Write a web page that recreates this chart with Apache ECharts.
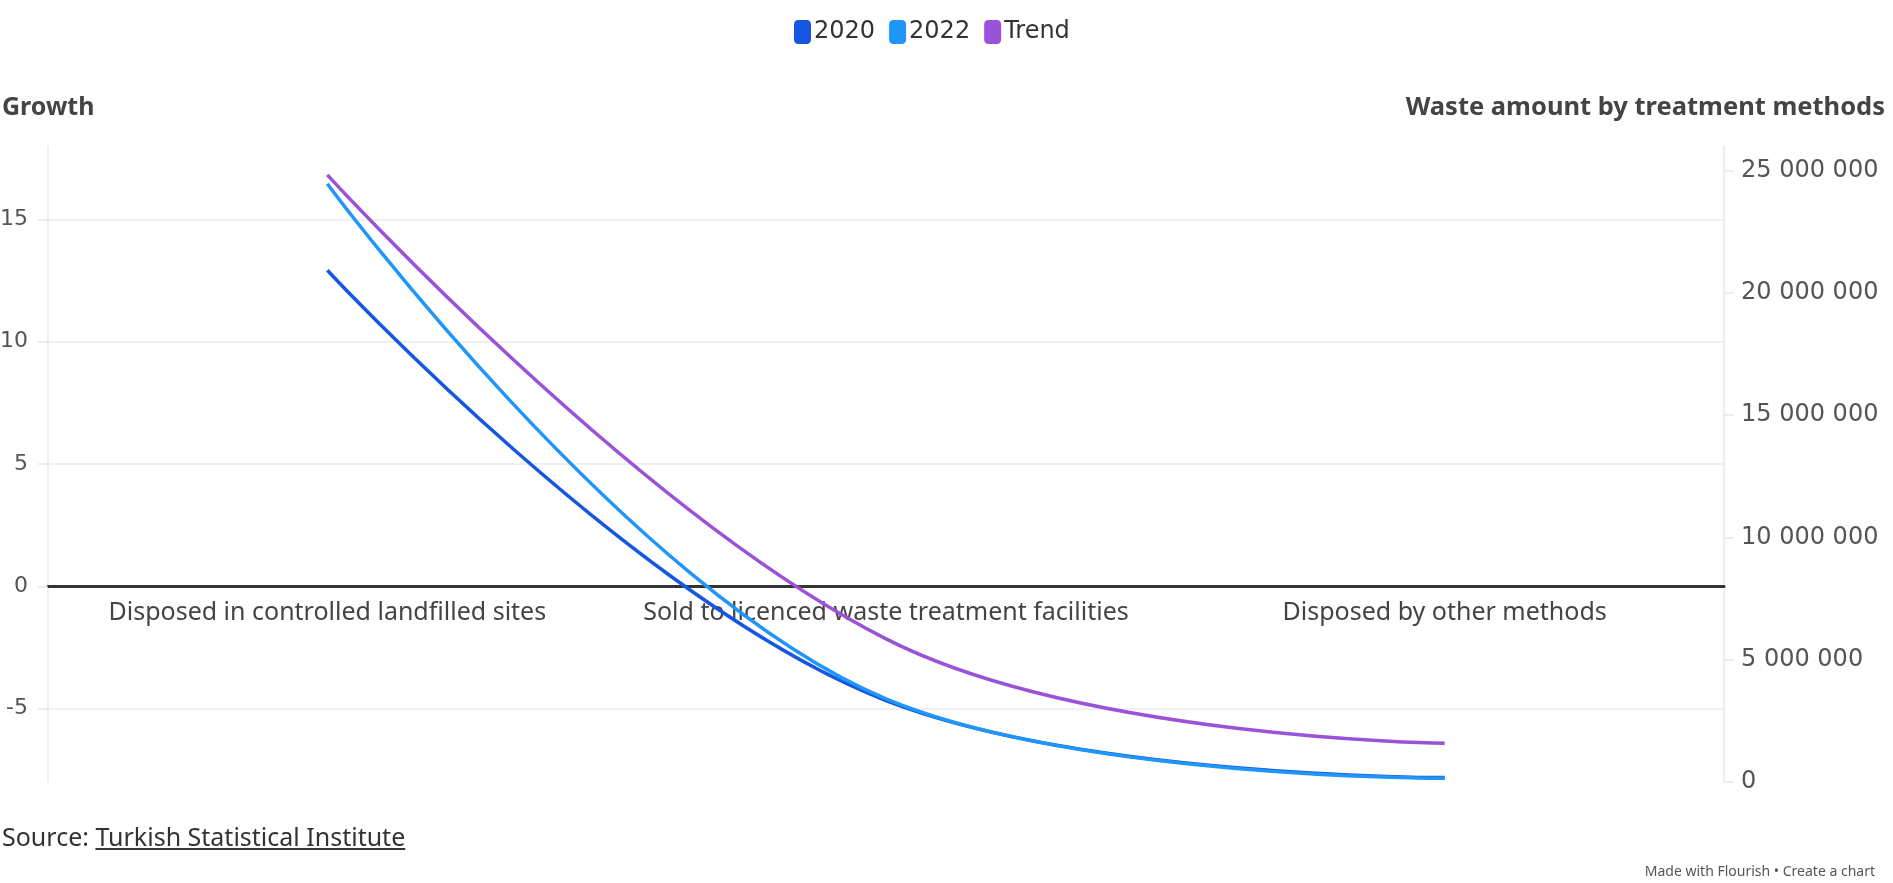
<!DOCTYPE html>
<html>
<head>
<meta charset="utf-8">
<title>Waste amount by treatment methods</title>
<script src="https://cdn.jsdelivr.net/npm/echarts@6/dist/echarts.min.js"></script>
<style>
  html, body { margin: 0; padding: 0; background: #fff; }
  #chart { width: 1893px; height: 883px; }
  .source {
    position: absolute; left: 2px; top: 819px;
    font: 25px "Noto Sans", sans-serif; color: #333;
  }
  .source span { text-decoration: underline; }
  .credit {
    position: absolute; right: 18px; top: 861px;
    font: 14px "Noto Sans", sans-serif; color: #555;
  }
</style>
</head>
<body>
<div id="chart"></div>
<div class="source">Source: <span>Turkish Statistical Institute</span></div>
<div class="credit">Made with Flourish • Create a chart</div>
<script>
// categories (x axis)
const categories = [
  'Disposed in controlled landfilled sites',
  'Sold to licenced waste treatment facilities',
  'Disposed by other methods'
];

// waste amounts
const data2020 = [20920000, 3330000, 180000];
const data2022 = [24460000, 3400000, 150000];
const trend = [24820000, 5850000, 1580000];

// tick values
const growthTicks = [-5, 0, 5, 10, 15];
const amountTicks = [0, 5000000, 10000000, 15000000, 20000000, 25000000];

const colors = ['#1557e0', '#2196f9', '#9a52d9'];

// 25000000 -> "25 000 000"
function spaced(v) {
  return String(v).replace(/\B(?=(\d{3})+(?!\d))/g, ' ');
}

const chart = echarts.init(document.getElementById('chart'));

const numFont = 'DejaVu Sans';
const textFont = 'Noto Sans';

// grid + left axis range, the category axis sits on the growth zero line
const gridTop = 146, gridBottom = 101;
const growthMin = -8, growthMax = 18;
const plotH = 883 - gridTop - gridBottom;
const zeroOffset = -plotH * (0 - growthMin) / (growthMax - growthMin);

chart.setOption({
  animation: false,
  color: colors,
  title: [
    {
      text: 'Growth',
      left: 2, top: 95, padding: 0,
      textStyle: { fontFamily: textFont, fontSize: 25, fontWeight: 'bold', color: '#444' }
    },
    {
      text: 'Waste amount by treatment methods',
      right: 8, top: 95, padding: 0,
      textStyle: { fontFamily: textFont, fontSize: 25.5, fontWeight: 'bold', color: '#444' }
    }
  ],
  legend: {
    top: 15,
    left: 789,
    icon: 'roundRect',
    itemWidth: 17,
    itemHeight: 24,
    itemGap: 14,
    textStyle: { fontFamily: numFont, fontSize: 24, color: '#333', padding: [0, 0, 0, -2] },
    data: ['2020', '2022', 'Trend']
  },
  grid: { left: 48, right: 169, top: gridTop, bottom: gridBottom, outerBoundsMode: 'none' },
  xAxis: {
    type: 'category',
    data: categories,
    boundaryGap: true,
    offset: zeroOffset,
    axisLine: { onZero: false, lineStyle: { color: '#333', width: 3 } },
    axisTick: { alignWithLabel: true, length: 8, lineStyle: { color: '#e6e6e6', width: 1.5 } },
    axisLabel: { interval: 0, hideOverlap: false, fontFamily: textFont, fontSize: 25, color: '#444', margin: 14 }
  },
  yAxis: [
    {
      type: 'value',
      position: 'left',
      min: growthMin,
      max: growthMax,
      axisLine: { show: true, lineStyle: { color: '#e8e8e8', width: 1.5 } },
      axisTick: { show: true, length: 10, customValues: growthTicks, lineStyle: { color: '#e8e8e8', width: 1.5 } },
      axisLabel: { customValues: growthTicks, fontFamily: numFont, fontSize: 22, color: '#555', margin: 20 },
      splitLine: { show: true, lineStyle: { color: '#ebebeb', width: 1.5 } }
    },
    {
      type: 'value',
      position: 'right',
      min: 0,
      max: 26000000,
      axisLine: { show: true, lineStyle: { color: '#e8e8e8', width: 1.5 } },
      axisTick: { show: true, length: 10, customValues: amountTicks, lineStyle: { color: '#e8e8e8', width: 1.5 } },
      axisLabel: { customValues: amountTicks, fontFamily: numFont, fontSize: 24, color: '#555', margin: 17, formatter: spaced },
      splitLine: { show: false }
    }
  ],
  series: [
    { name: '2020', type: 'line', yAxisIndex: 1, data: data2020, smooth: 0.4, symbol: 'none', lineStyle: { width: 3.5 } },
    { name: '2022', type: 'line', yAxisIndex: 1, data: data2022, smooth: 0.4, symbol: 'none', lineStyle: { width: 3.5 } },
    { name: 'Trend', type: 'line', yAxisIndex: 1, data: trend, smooth: 0.4, symbol: 'none', lineStyle: { width: 3.5 } }
  ]
});
</script>
</body>
</html>
